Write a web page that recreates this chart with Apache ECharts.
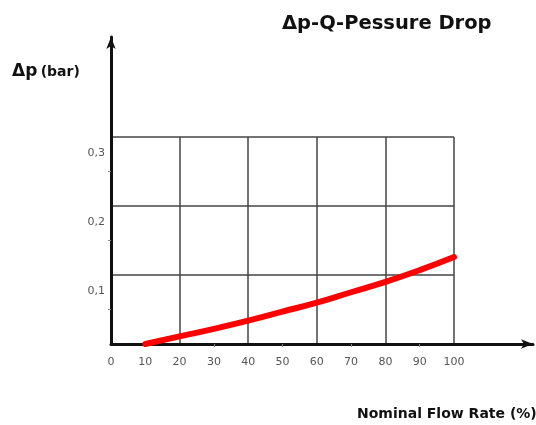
<!DOCTYPE html>
<html>
<head>
<meta charset="utf-8">
<script src="https://cdn.jsdelivr.net/npm/echarts@6/dist/echarts.min.js"></script>
<style>html,body{margin:0;padding:0;background:#fff;}#c{width:536px;height:425px;}</style>
</head>
<body>
<div id="c"></div>
<script>
// Data
const flowRate = [10, 20, 30, 40, 50, 60, 70, 80, 90, 100];          // Nominal Flow Rate (%)
const pressureDrop = [0.000, 0.011, 0.022, 0.034, 0.047, 0.060, 0.075, 0.090, 0.107, 0.126]; // Δp (bar)
const xTicks = [0, 10, 20, 30, 40, 50, 60, 70, 80, 90, 100];
const yTicks = ['0,1', '0,2', '0,3'];
const titleText = 'Δp-Q-Pessure Drop';
const xName = 'Nominal Flow Rate (%)';

const chart = echarts.init(document.getElementById('c'), null, {renderer: 'canvas'});
const font = 'DejaVu Sans';
const gridColor = '#444';

chart.setOption({
  backgroundColor: '#fff',
  animation: false,
  title: {
    text: titleText, left: 282, top: 14, padding: 0,
    textStyle: {fontFamily: font, fontWeight: 'bold', fontSize: 19.5, color: '#111'}
  },
  grid: [
    {left: 111, right: 82, top: 137, bottom: 81},
    {left: 111, right: 3, top: 37, bottom: 81}
  ],
  xAxis: [
    { // grid lines every 20
      type: 'value', gridIndex: 0, min: 0, max: 100, interval: 20,
      axisLine: {show: false}, axisTick: {show: false}, axisLabel: {show: false},
      minorTick: {show: true, splitNumber: 2, length: 3, lineStyle: {color: '#888', width: 1}},
      splitLine: {show: true, lineStyle: {color: gridColor, width: 1.5}}
    },
    { // labels every 10
      type: 'value', gridIndex: 0, min: 0, max: 100, interval: 10, position: 'bottom',
      axisLine: {show: false}, axisTick: {show: false}, splitLine: {show: false},
      axisLabel: {show: true, margin: 13, fontFamily: font, fontSize: 11, color: '#555',
        formatter: v => xTicks.includes(v) ? String(v) : ''}
    },
    { // extended axis line with arrow
      type: 'value', gridIndex: 1, min: 0, max: 1,
      axisLine: {show: true, symbol: ['none', 'arrow'], symbolSize: [7, 12],
        lineStyle: {color: '#111', width: 3}},
      axisTick: {show: false}, axisLabel: {show: false}, splitLine: {show: false}
    }
  ],
  yAxis: [
    {
      type: 'value', gridIndex: 0, min: 0, max: 0.3, interval: 0.1,
      axisLine: {show: false}, axisTick: {show: false},
      minorTick: {show: true, splitNumber: 2, length: 3, lineStyle: {color: '#888', width: 1}},
      splitLine: {show: true, lineStyle: {color: gridColor, width: 1.5}},
      axisLabel: {show: true, margin: 6, fontFamily: font, fontSize: 11, color: '#555',
        verticalAlign: 'top', lineHeight: 32,
        formatter: v => { const i = Math.round(v * 10) - 1; return i >= 0 && i < yTicks.length ? yTicks[i] : ''; }}
    },
    {
      type: 'value', gridIndex: 1, min: 0, max: 1,
      axisLine: {show: true, symbol: ['none', 'arrow'], symbolSize: [7, 12],
        lineStyle: {color: '#111', width: 3}},
      axisTick: {show: false}, axisLabel: {show: false}, splitLine: {show: false}
    }
  ],
  graphic: [
    {
      type: 'text', left: 12, top: 63,
      style: {
        text: '{a|Δp} {b|(bar)}',
        rich: {
          a: {fontFamily: font, fontWeight: 'bold', fontSize: 17, fill: '#111', verticalAlign: 'bottom'},
          b: {fontFamily: font, fontWeight: 'bold', fontSize: 14, fill: '#111', verticalAlign: 'bottom', padding: [0, 0, 1, 0]}
        }
      }
    },
    {
      type: 'text', left: 357, top: 407,
      style: {text: xName, fontFamily: font, fontWeight: 'bold', fontSize: 14, fill: '#111'}
    }
  ],
  series: [{
    type: 'line', xAxisIndex: 0, yAxisIndex: 0,
    data: flowRate.map((x, i) => [x, pressureDrop[i]]),
    smooth: true, showSymbol: false, z: 5,
    lineStyle: {color: '#ff0000', width: 6, cap: 'round'}
  }]
});
</script>
</body>
</html>
